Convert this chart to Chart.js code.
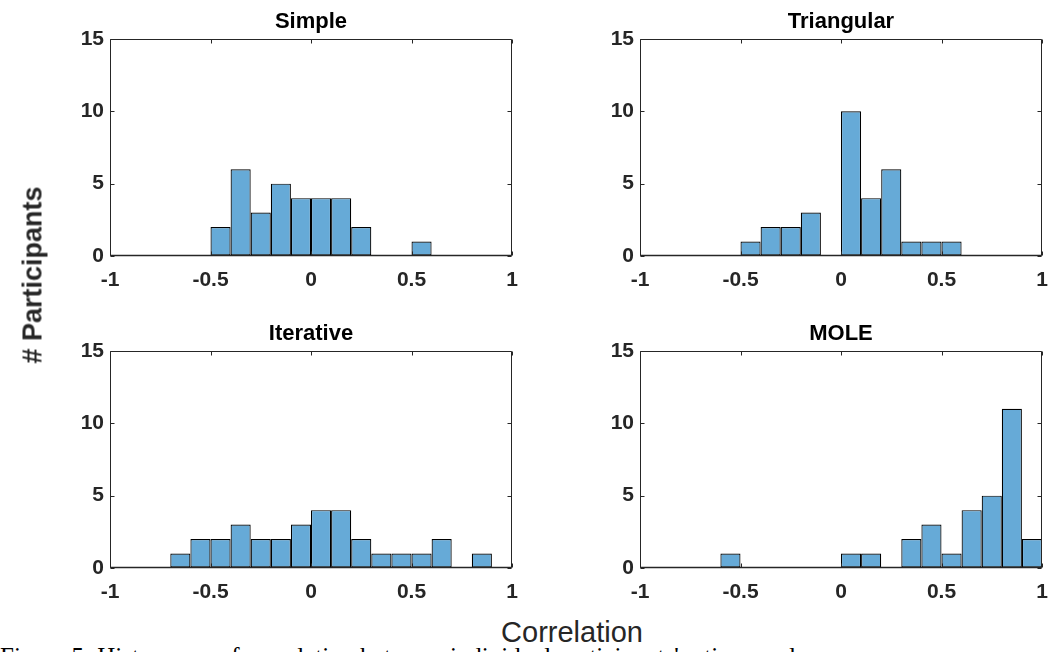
<!DOCTYPE html>
<html><head><meta charset="utf-8">
<script src="https://cdn.jsdelivr.net/npm/chart.js@4.4.1/dist/chart.umd.min.js"></script>
<style>
html,body{margin:0;padding:0;width:1051px;height:652px;overflow:hidden;background:#fff;}
canvas{position:absolute;}
#ylab{position:absolute;left:33px;top:275px;transform:translate(-50%,-50%) rotate(-90deg);font:bold 27px "Liberation Sans",Arial,sans-serif;color:#262626;white-space:nowrap;}
#xlab{position:absolute;left:572px;top:632px;transform:translate(-50%,-50%);font:29px "Liberation Sans",Arial,sans-serif;color:#262626;white-space:nowrap;}
#cap{position:absolute;left:0;top:644px;font:25px "Liberation Serif","Times New Roman",serif;white-space:nowrap;line-height:1;color:#000;}
</style></head><body>
<canvas id="c0" width="525" height="300" style="left:0;top:0"></canvas>
<canvas id="c1" width="521" height="300" style="left:530px;top:0"></canvas>
<canvas id="c2" width="525" height="300" style="left:0;top:312px"></canvas>
<canvas id="c3" width="521" height="300" style="left:530px;top:312px"></canvas>
<div id="ylab"># Participants</div>
<div id="xlab">Correlation</div>
<div id="cap">Figure 5: Histograms of correlation between individual participants' ratings and</div>
<script>
// Histogram bin centres (bin width 0.1, from -1 to 1)
const binCenters = [-0.95,-0.85,-0.75,-0.65,-0.55,-0.45,-0.35,-0.25,-0.15,-0.05,
                     0.05, 0.15, 0.25, 0.35, 0.45, 0.55, 0.65, 0.75, 0.85, 0.95];
const panelTitles = ['Simple','Triangular','Iterative','MOLE'];
const simpleCounts     = [0,0,0,0,0,2,6,3,5,4,4,4,2,0,0,1,0,0,0,0];
const triangularCounts = [0,0,0,0,0,1,2,2,3,0,10,4,6,1,1,1,0,0,0,0];
const iterativeCounts  = [0,0,0,1,2,2,3,2,2,3,4,4,2,1,1,1,2,0,1,0];
const moleCounts       = [0,0,0,0,1,0,0,0,0,0,1,1,0,2,3,1,4,5,11,2];
const xTickValues = [-1,-0.5,0,0.5,1];
const xTickLabels = ['-1','-0.5','0','0.5','1'];
const yTickValues = [0,5,10,15];
const yTickLabels = ['0','5','10','15'];

const allCounts = [simpleCounts, triangularCounts, iterativeCounts, moleCounts];
const FONT = '"Liberation Sans", Arial, sans-serif';
const AX = '#262626';

const boxPlugin = {
  id: 'matlabBox',
  afterDatasetsDraw(chart) {
    const {ctx, chartArea: a, scales: {x, y}} = chart;
    const L = Math.round(a.left) + 0.5, R = Math.round(a.right) - 0.5;
    const T = Math.round(a.top) + 0.5, B = Math.round(a.bottom) - 0.5;
    ctx.save();
    ctx.strokeStyle = AX;
    ctx.lineWidth = 1;
    ctx.beginPath();
    ctx.rect(L, T, R - L, B - T);
    const tl = 4;
    xTickValues.forEach(v => {
      const p = Math.round(x.getPixelForValue(v)) + 0.5;
      ctx.moveTo(p, B); ctx.lineTo(p, B - tl);
      ctx.moveTo(p, T); ctx.lineTo(p, T + tl);
    });
    yTickValues.forEach(v => {
      const p = Math.round(y.getPixelForValue(v)) + 0.5;
      ctx.moveTo(L, p); ctx.lineTo(L + tl, p);
      ctx.moveTo(R, p); ctx.lineTo(R - tl, p);
    });
    ctx.stroke();
    ctx.lineWidth = 1.6;
    ctx.beginPath();
    ctx.moveTo(L, B); ctx.lineTo(R, B);
    ctx.stroke();
    ctx.restore();
  }
};

// desired plot-area box inside each canvas
const target = {left:110, right:512, top:39, bottom:256};

function makeChart(idx) {
  const canvas = document.getElementById('c' + idx);
  const W = canvas.width, H = canvas.height;
  new Chart(canvas, {
    type: 'bar',
    data: {
      datasets: [{
        data: binCenters.map((c, i) => ({x: c, y: allCounts[idx][i]})),
        backgroundColor: '#66AAD7',
        borderColor: '#000000',
        borderWidth: 1.2,
        borderSkipped: false,
        barPercentage: 1,
        categoryPercentage: 1,
        inflateAmount: 0
      }]
    },
    options: {
      responsive: false,
      animation: false,
      devicePixelRatio: 1,
      layout: {padding: {left: target.left - 60, right: W - target.right, top: 0, bottom: H - target.bottom - 34}},
      plugins: {
        legend: {display: false},
        tooltip: {enabled: false},
        title: {
          display: true,
          fullSize: false,
          text: panelTitles[idx],
          color: '#000',
          font: {family: FONT, size: 22, weight: 'bold'},
          padding: {top: 9, bottom: 3.6}
        }
      },
      scales: {
        x: {
          type: 'linear',
          min: -1, max: 1,
          offset: false,
          grid: {display: true, color: 'rgba(0,0,0,0)', drawOnChartArea: false, drawTicks: true, tickLength: 11},
          border: {display: false},
          afterBuildTicks: s => { s.ticks = xTickValues.map(v => ({value: v})); },
          afterFit: s => { s.height = 34; },
          ticks: {
            autoSkip: false, maxRotation: 0, padding: 1,
            color: AX,
            font: {family: FONT, size: 21, weight: 'bold'},
            callback: v => xTickLabels[xTickValues.indexOf(v)]
          }
        },
        y: {
          type: 'linear',
          min: 0, max: 15,
          grid: {display: true, color: 'rgba(0,0,0,0)', drawOnChartArea: false, drawTicks: true, tickLength: 5},
          border: {display: false},
          afterBuildTicks: s => { s.ticks = yTickValues.map(v => ({value: v})); },
          afterFit: s => { s.width = 60; },
          ticks: {
            autoSkip: false, padding: 1,
            color: AX,
            font: {family: FONT, size: 21, weight: 'bold'},
            callback: v => yTickLabels[yTickValues.indexOf(v)]
          }
        }
      }
    },
    plugins: [boxPlugin]
  });
}
[0,1,2,3].forEach(makeChart);
</script>
</body></html>
